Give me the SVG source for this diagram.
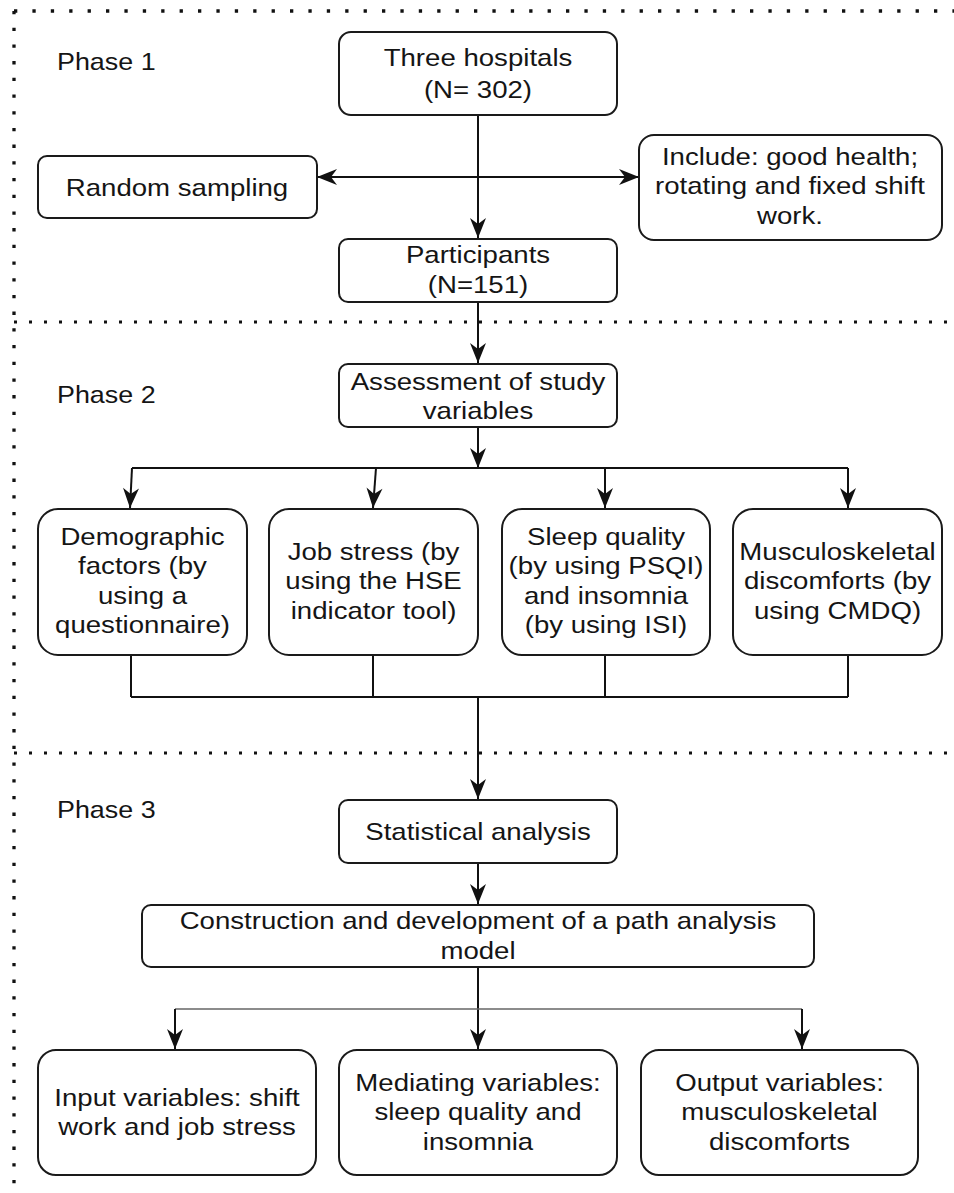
<svg xmlns="http://www.w3.org/2000/svg" width="954" height="1193" viewBox="0 0 954 1193">
<style>
.bg{fill:#ffffff}
.box{fill:#ffffff;stroke:#1a1a1a;stroke-width:2}
.t{font-family:"Liberation Sans",Arial,sans-serif;font-size:24px;fill:#151515;text-anchor:middle}
.ph{font-family:"Liberation Sans",Arial,sans-serif;font-size:24px;fill:#151515}
.c{fill:none;stroke:#111111;stroke-width:2}
.cg{fill:none;stroke:#666666;stroke-width:1.6}
.ar{marker-end:url(#arr)}
.dotH{fill:none;stroke:#111111;stroke-width:3.3;stroke-dasharray:3.3 15.1}
.dotM{fill:none;stroke:#111111;stroke-width:3;stroke-dasharray:3 12}
.dotV{fill:none;stroke:#111111;stroke-width:3.3;stroke-dasharray:3.3 13.4}
</style>
<defs>
<marker id="arr" markerUnits="userSpaceOnUse" viewBox="-21 -10 22 20" markerWidth="22" markerHeight="20" refX="0" refY="0" orient="auto-start-reverse">
<path d="M0,0 L-20,-8 L-14,0 L-20,8 Z" fill="#111111"/>
</marker>
</defs>
<rect class="bg" x="0" y="0" width="954" height="1193"/>
<g id="phase-borders">
<path class="dotH" d="M14,11 H954"/>
<path class="dotV" d="M14,11 V1193"/>
<path class="dotM" d="M14,322 H954"/>
<path class="dotM" d="M14,753 H954"/>
</g>
<g id="phase-labels">
<text class="ph" transform="translate(57,70) scale(1.12 1)">Phase 1</text>
<text class="ph" transform="translate(57,403) scale(1.12 1)">Phase 2</text>
<text class="ph" transform="translate(57,818) scale(1.12 1)">Phase 3</text>
</g>
<g id="connectors">
<path class="c ar" d="M478,115 V238"/>
<path class="c" d="M317,177 H639" marker-start="url(#arr)" marker-end="url(#arr)"/>
<path class="c ar" d="M478,302 V363"/>
<path class="c ar" d="M478,427 V468"/>
<path class="c" d="M132,468 H848"/>
<path class="c ar" d="M132,468 L130,508"/>
<path class="c ar" d="M376,468 L373,508"/>
<path class="c ar" d="M605,468 V508"/>
<path class="c ar" d="M848,468 V508"/>
<path class="c" d="M131,655 V697 M373,655 V697 M605,655 V697 M848,655 V697 M131,697 H848"/>
<path class="c ar" d="M478,697 V799"/>
<path class="c ar" d="M478,863 V904"/>
<path class="c ar" d="M478,967 V1049"/>
<path class="cg" d="M175,1009 H802"/>
<path class="c ar" d="M175,1009 V1049"/>
<path class="c ar" d="M802,1009 V1049"/>
</g>
<g id="three-hospitals">
<rect class="box" x="339" y="32" width="278" height="83" rx="12"/>
<text class="t" transform="translate(478,66) scale(1.15 1)"><tspan x="0">Three hospitals</tspan><tspan x="0" y="32">(N= 302)</tspan></text>
</g>
<g id="random-sampling">
<rect class="box" x="38" y="156" width="279" height="62" rx="9"/>
<text class="t" transform="translate(177,195.5) scale(1.15 1)">Random sampling</text>
</g>
<g id="include">
<rect class="box" x="639" y="135" width="303" height="105" rx="15"/>
<text class="t" transform="translate(790,165) scale(1.15 1)"><tspan x="0">Include: good health;</tspan><tspan x="0" y="29.5">rotating and fixed shift</tspan><tspan x="0" y="59">work.</tspan></text>
</g>
<g id="participants">
<rect class="box" x="339" y="239" width="278" height="63" rx="9"/>
<text class="t" transform="translate(478,263) scale(1.15 1)"><tspan x="0">Participants</tspan><tspan x="0" y="30">(N=151)</tspan></text>
</g>
<g id="assessment">
<rect class="box" x="339" y="364" width="278" height="63" rx="9"/>
<text class="t" transform="translate(478,390) scale(1.15 1)"><tspan x="0">Assessment of study</tspan><tspan x="0" y="29.5">variables</tspan></text>
</g>
<g id="demographic">
<rect class="box" x="38" y="509" width="209" height="146" rx="20"/>
<text class="t" transform="translate(142.5,545) scale(1.15 1)"><tspan x="0">Demographic</tspan><tspan x="0" y="29.5">factors (by</tspan><tspan x="0" y="59">using a</tspan><tspan x="0" y="88.5">questionnaire)</tspan></text>
</g>
<g id="job-stress">
<rect class="box" x="269" y="509" width="209" height="146" rx="20"/>
<text class="t" transform="translate(373.5,560) scale(1.15 1)"><tspan x="0">Job stress (by</tspan><tspan x="0" y="29.5">using the HSE</tspan><tspan x="0" y="59">indicator tool)</tspan></text>
</g>
<g id="sleep-quality">
<rect class="box" x="502" y="509" width="208" height="146" rx="20"/>
<text class="t" transform="translate(606,545) scale(1.15 1)"><tspan x="0">Sleep quality</tspan><tspan x="0" y="29.5">(by using PSQI)</tspan><tspan x="0" y="59">and insomnia</tspan><tspan x="0" y="88.5">(by using ISI)</tspan></text>
</g>
<g id="musculoskeletal">
<rect class="box" x="733" y="509" width="209" height="146" rx="20"/>
<text class="t" transform="translate(837.5,560) scale(1.15 1)"><tspan x="0">Musculoskeletal</tspan><tspan x="0" y="29.5">discomforts (by</tspan><tspan x="0" y="59">using CMDQ)</tspan></text>
</g>
<g id="statistical-analysis">
<rect class="box" x="339" y="800" width="278" height="63" rx="9"/>
<text class="t" transform="translate(478,840) scale(1.15 1)">Statistical analysis</text>
</g>
<g id="path-model">
<rect class="box" x="142" y="905" width="672" height="62" rx="9"/>
<text class="t" transform="translate(478,929) scale(1.15 1)"><tspan x="0">Construction and development of a path analysis</tspan><tspan x="0" y="30">model</tspan></text>
</g>
<g id="input-variables">
<rect class="box" x="38" y="1050" width="278" height="125" rx="18"/>
<text class="t" transform="translate(177,1106) scale(1.15 1)"><tspan x="0">Input variables: shift</tspan><tspan x="0" y="29.5">work and job stress</tspan></text>
</g>
<g id="mediating-variables">
<rect class="box" x="339" y="1050" width="278" height="125" rx="18"/>
<text class="t" transform="translate(478,1091) scale(1.15 1)"><tspan x="0">Mediating variables:</tspan><tspan x="0" y="29.5">sleep quality and</tspan><tspan x="0" y="59">insomnia</tspan></text>
</g>
<g id="output-variables">
<rect class="box" x="641" y="1050" width="277" height="125" rx="18"/>
<text class="t" transform="translate(779.5,1091) scale(1.15 1)"><tspan x="0">Output variables:</tspan><tspan x="0" y="29.5">musculoskeletal</tspan><tspan x="0" y="59">discomforts</tspan></text>
</g>
</svg>
